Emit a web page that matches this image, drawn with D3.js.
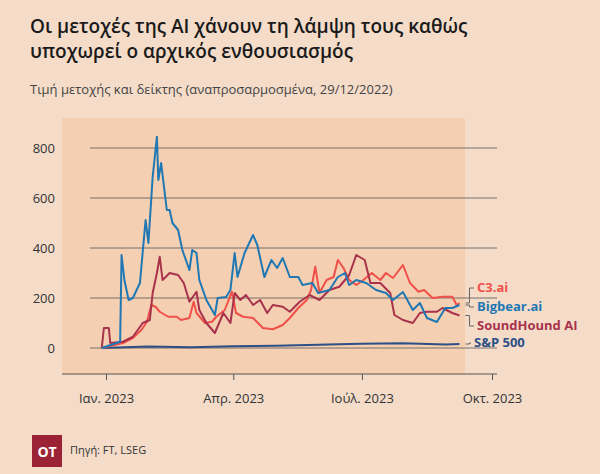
<!DOCTYPE html>
<html>
<head>
<meta charset="utf-8">
<script src="https://cdn.jsdelivr.net/npm/d3@7"></script>
<style>
  body { margin: 0; background: #f4dcc9; }
  svg { font-family: "Open Sans", sans-serif; }
</style>
</head>
<body>
<script>
// ημέρες από 1/1/2023 και τιμές (αναπροσαρμοσμένες, % μεταβολή)
var bigbearDays = [-3, 10, 11, 13, 16, 19, 24, 28, 30, 33, 36, 37, 39, 43, 45, 47, 51, 54, 59, 61, 64, 66, 71, 77, 79, 85, 88, 91, 93, 98, 104, 107, 112, 117, 121, 125, 130, 136, 139, 146, 150, 158, 164, 169, 172, 177, 184, 191, 198, 203, 210, 217, 222, 227, 234, 240, 245, 250];
var bigbearVals = [0, 25, 372, 272, 192, 200, 260, 512, 420, 684, 845, 672, 740, 552, 552, 500, 472, 392, 312, 392, 380, 272, 192, 132, 200, 204, 232, 380, 284, 380, 452, 412, 284, 352, 320, 360, 284, 284, 252, 260, 220, 232, 284, 300, 252, 272, 260, 232, 220, 192, 224, 152, 180, 120, 104, 160, 160, 172];

var c3Days = [-3, 12, 19, 25, 29, 32, 35, 38, 44, 50, 53, 59, 62, 64, 70, 75, 78, 84, 89, 92, 97, 104, 111, 118, 125, 130, 136, 142, 145, 148, 151, 156, 161, 164, 168, 172, 177, 182, 188, 194, 198, 203, 210, 215, 221, 225, 231, 238, 245, 248, 250];
var c3Vals = [0, 20, 40, 72, 105, 172, 165, 145, 125, 125, 112, 120, 185, 140, 100, 105, 125, 152, 225, 140, 125, 120, 80, 75, 92, 120, 160, 192, 232, 325, 220, 272, 284, 352, 320, 272, 252, 272, 300, 272, 300, 280, 332, 260, 225, 232, 200, 205, 205, 172, 180];

var soundDays = [-3, -1.5, 2, 3, 12, 19, 26, 31, 33, 36, 38, 40, 45, 51, 55, 59, 64, 66, 71, 77, 83, 88, 91, 95, 99, 104, 109, 114, 118, 125, 130, 137, 144, 151, 158, 165, 172, 177, 183, 187, 194, 201, 204, 210, 217, 222, 227, 234, 238, 245, 250];
var soundVals = [0, 80, 80, 20, 25, 45, 100, 112, 220, 300, 365, 272, 300, 292, 260, 185, 225, 152, 100, 60, 140, 100, 220, 192, 212, 172, 192, 140, 172, 165, 145, 185, 212, 192, 232, 245, 292, 372, 352, 260, 260, 220, 132, 112, 100, 140, 145, 145, 160, 140, 130];

var spDays = [-3, 30, 60, 90, 120, 150, 180, 210, 240, 250];
var spVals = [0, 6, 3, 7, 9, 13, 17, 19, 14, 16];

var yTicks = [0, 200, 400, 600, 800];
var xTicks = ["2023-01-01", "2023-04-01", "2023-07-01", "2023-10-01"];
var xTickLabels = ["Ιαν. 2023", "Απρ. 2023", "Ιούλ. 2023", "Οκτ. 2023"];

var W = 600, H = 474;
var start = new Date(2023, 0, 1);
function toSeries(days, vals) {
  return days.map(function (d, i) {
    return { date: new Date(start.getTime() + d * 864e5), v: vals[i] };
  });
}

var svg = d3.select("body").append("svg").attr("width", W).attr("height", H);

var x = d3.scaleTime().domain([new Date(2023, 0, 1), new Date(2023, 9, 1)]).range([106, 492]);
var y = d3.scaleLinear().domain([0, 800]).range([348, 148]);

// τίτλος
svg.append("text").attr("x", 30).attr("y", 33).attr("font-size", 19).attr("font-weight", 600)
  .attr("fill", "#1a1a1a").text("Οι μετοχές της AI χάνουν τη λάμψη τους καθώς");
svg.append("text").attr("x", 30).attr("y", 58).attr("font-size", 19).attr("font-weight", 600)
  .attr("fill", "#1a1a1a").text("υποχωρεί ο αρχικός ενθουσιασμός");
svg.append("text").attr("x", 30).attr("y", 94).attr("font-size", 13)
  .attr("fill", "#444").text("Τιμή μετοχής και δείκτης (αναπροσαρμοσμένα, 29/12/2022)");

// φόντο περιοχής
svg.append("rect").attr("x", 62).attr("y", 118).attr("width", 403).attr("height", 256)
  .attr("fill", "#f5cfb1");

// γραμμές πλέγματος
svg.selectAll(".grid").data(yTicks).enter().append("line")
  .attr("x1", 90).attr("x2", 497)
  .attr("y1", function (d) { return y(d); }).attr("y2", function (d) { return y(d); })
  .attr("stroke", "#555").attr("stroke-width", 0.8);
svg.selectAll(".ylab").data(yTicks).enter().append("text")
  .attr("x", 55).attr("y", function (d) { return y(d) + 5; })
  .attr("text-anchor", "end").attr("font-size", 13).attr("fill", "#333")
  .text(function (d) { return d; });

// άξονας x
var xAxis = d3.axisBottom(x)
  .tickValues(xTicks.map(function (s) { return d3.timeParse("%Y-%m-%d")(s); }))
  .tickFormat(function (d, i) { return xTickLabels[i]; })
  .tickSize(6).tickPadding(14);
var gx = svg.append("g").attr("transform", "translate(0,374)").call(xAxis);
gx.select(".domain").attr("d", "M62,0H497").attr("stroke", "#555");
gx.selectAll(".tick line").attr("stroke", "#555");
gx.selectAll("text").attr("font-size", 13).attr("fill", "#333").attr("font-family", "Open Sans, sans-serif");

var line = d3.line().x(function (d) { return x(d.date); }).y(function (d) { return y(d.v); });

var series = [
  { name: "S&P 500", data: toSeries(spDays, spVals), color: "#2c4f86", ly: 347 },
  { name: "C3.ai", data: toSeries(c3Days, c3Vals), color: "#f0504a", ly: 292 },
  { name: "SoundHound AI", data: toSeries(soundDays, soundVals), color: "#a8324c", ly: 330 },
  { name: "Bigbear.ai", data: toSeries(bigbearDays, bigbearVals), color: "#1f78b4", ly: 311 }
];

svg.selectAll(".series").data(series).enter().append("path")
  .attr("d", function (d) { return line(d.data); })
  .attr("fill", "none").attr("stroke", function (d) { return d.color; })
  .attr("stroke-width", 2).attr("stroke-linejoin", "round");

// ετικέτες με οδηγούς
series.forEach(function (s) {
  var last = s.data[s.data.length - 1];
  var lx = x(last.date) + 6, ly = y(last.v);
  var tx = s.name === "S&P 500" ? 474 : 477;
  var textY = s.ly;
  svg.append("path")
    .attr("d", "M" + (lx) + "," + ly + "H" + (lx + 4) + "V" + (textY - 4) + "H" + (tx - 3))
    .attr("fill", "none").attr("stroke", "#666").attr("stroke-width", 1);
  svg.append("text").attr("x", tx).attr("y", textY).attr("font-size", 13).attr("font-weight", 700)
    .attr("fill", s.color).text(s.name);
});

// πηγή
svg.append("rect").attr("x", 32).attr("y", 435).attr("width", 30).attr("height", 32).attr("fill", "#9b2335");
svg.append("text").attr("x", 47).attr("y", 457).attr("text-anchor", "middle").attr("font-size", 14)
  .attr("font-weight", 700).attr("fill", "#fff").text("OT");
svg.append("text").attr("x", 70).attr("y", 454).attr("font-size", 11).attr("fill", "#333").text("Πηγή: FT, LSEG");
</script>
</body>
</html>
